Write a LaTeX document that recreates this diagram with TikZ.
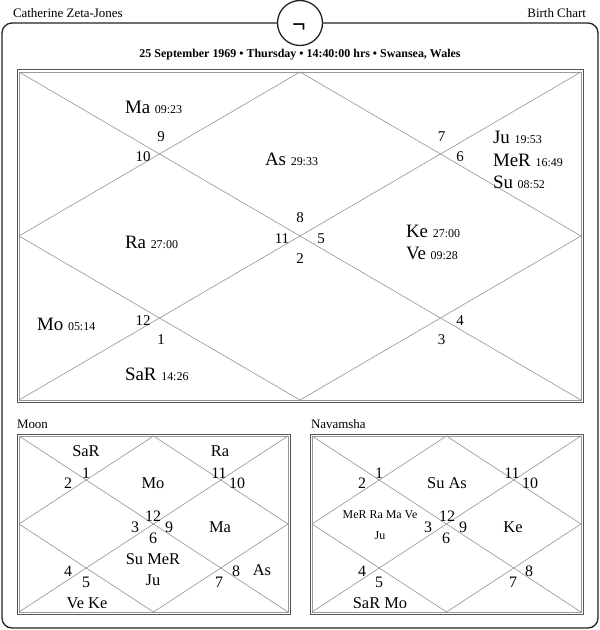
\documentclass[tikz,border=0pt]{standalone}
\usepackage{fontspec}
\setmainfont{Liberation Serif}
\definecolor{framec}{HTML}{222222}
\definecolor{boxout}{HTML}{555555}
\definecolor{boxin}{HTML}{9A9A9A}
\definecolor{linec}{HTML}{8C8C8C}
\newcommand{\pl}[2]{\fontsize{19}{20}\selectfont #1\ \fontsize{12}{13}\selectfont #2}
\newcommand{\chartgrid}[4]{%
  \draw[boxouter] (#1,#2) rectangle (#3,#4);
  \draw[boxinner] (#1+2,#2+2) rectangle (#3-2,#4-2);
  \draw[chartline] (#1+2,#2+2) -- (#3-2,#4-2);
  \draw[chartline] (#3-2,#2+2) -- (#1+2,#4-2);
  \draw[chartline] ({(#1+#3)/2},#2+2) -- (#3-2,{(#2+#4)/2}) -- ({(#1+#3)/2},#4-2) -- (#1+2,{(#2+#4)/2}) -- cycle;
}
\tikzset{
  boxouter/.style={draw=boxout, line width=1bp},
  boxinner/.style={draw=boxin, line width=0.6bp},
  chartline/.style={draw=linec, line width=0.55bp},
  txt/.style={inner sep=0pt, outer sep=0pt},
  planet/.style={txt, anchor=base west},
  hnum/.style={txt, anchor=base, font=\fontsize{15}{16}\selectfont},
  snum/.style={txt, anchor=base, font=\fontsize{16}{17}\selectfont},
  splan/.style={txt, anchor=base, font=\fontsize{16.5}{17}\selectfont},
  tiny/.style={txt, anchor=base, font=\fontsize{12}{13}\selectfont},
  head/.style={txt, font=\fontsize{13}{14}\selectfont},
}
\begin{document}
\begin{tikzpicture}[x=1bp,y=-1bp]
\useasboundingbox (0,0) rectangle (600,630);
\fill[white] (0,0) rectangle (600,630);
% outer frame
\draw[draw=framec, line width=1.3bp, rounded corners=10bp] (2,23) rectangle (598,628);
\node[draw=framec, fill=white, line width=1.3bp, circle, minimum size=45bp, inner sep=0pt] (badge) at (300,23) {};
\node[txt, anchor=base, font=\fontsize{24}{24}\selectfont\bfseries] (sym) at (299,32.5) {¬};
% headers
\node[head, anchor=base west] (name) at (13,18) {Catherine Zeta-Jones};
\node[head, anchor=base east] (kind) at (586,18) {Birth Chart};
\node[txt, anchor=base, font=\fontsize{12}{13}\selectfont\bfseries] (date) at (300,58) {25 September 1969 • Thursday • 14:40:00 hrs • Swansea, Wales};
% main chart
\chartgrid{17}{70}{583}{402}
\node[planet] (p-ma) at (125,114) {\pl{Ma}{09:23}};
\node[planet] (p-as) at (265,166) {\pl{As}{29:33}};
\node[planet] (p-ju) at (493,144) {\pl{Ju}{19:53}};
\node[planet] (p-me) at (493,166.5) {\pl{MeR}{16:49}};
\node[planet] (p-su) at (493,189) {\pl{Su}{08:52}};
\node[planet] (p-ra) at (125,248) {\pl{Ra}{27:00}};
\node[planet] (p-ke) at (406,237) {\pl{Ke}{27:00}};
\node[planet] (p-ve) at (406,259) {\pl{Ve}{09:28}};
\node[planet] (p-mo) at (37,330) {\pl{Mo}{05:14}};
\node[planet] (p-sa) at (125,380) {\pl{SaR}{14:26}};
\node[hnum] (h9) at (161,142) {9};
\node[hnum] (h10) at (143,162) {10};
\node[hnum] (h7) at (441.5,142) {7};
\node[hnum] (h6) at (460,162) {6};
\node[hnum] (h8) at (300,222) {8};
\node[hnum] (h11) at (282,243) {11};
\node[hnum] (h5) at (321,243) {5};
\node[hnum] (h2) at (300,263) {2};
\node[hnum] (h12) at (143,325) {12};
\node[hnum] (h1) at (161,344) {1};
\node[hnum] (h4) at (460,325) {4};
\node[hnum] (h3) at (441.5,344) {3};
% Moon chart
\node[head, anchor=base west] (moonlbl) at (17,428) {Moon};
\chartgrid{17}{434}{290}{614}
\node[splan] (m-sa) at (86,456) {SaR};
\node[snum] (m1) at (86,478.5) {1};
\node[snum] (m2) at (68,488.5) {2};
\node[splan] (m-mo) at (153,488) {Mo};
\node[splan] (m-ra) at (220,456) {Ra};
\node[snum] (m11) at (219,478.5) {11};
\node[snum] (m10) at (237,488.5) {10};
\node[snum] (m12) at (153,521) {12};
\node[snum] (m3) at (135,532) {3};
\node[snum] (m9) at (169,532) {9};
\node[snum] (m6) at (153,543) {6};
\node[splan] (m-ma) at (220,532) {Ma};
\node[splan] (m-sume) at (153,564) {Su MeR};
\node[splan] (m-ju) at (153,585) {Ju};
\node[snum] (m4) at (68,576) {4};
\node[snum] (m5) at (86,587) {5};
\node[splan] (m-veke) at (87,608) {Ve Ke};
\node[snum] (m8) at (236,576) {8};
\node[snum] (m7) at (219,587.5) {7};
\node[splan] (m-as) at (262,575) {As};
% Navamsha chart
\node[head, anchor=base west] (navlbl) at (311,428) {Navamsha};
\chartgrid{310}{434}{583}{614}
\node[snum] (n1) at (379,478.5) {1};
\node[snum] (n2) at (362,488.5) {2};
\node[splan] (n-suas) at (447,488) {Su As};
\node[snum] (n11) at (512,478.5) {11};
\node[snum] (n10) at (530,488.5) {10};
\node[tiny] (n-grp) at (380,518) {MeR Ra Ma Ve};
\node[tiny] (n-ju) at (380,539) {Ju};
\node[snum] (n12) at (447,521) {12};
\node[snum] (n3) at (428,532) {3};
\node[snum] (n9) at (463,532) {9};
\node[snum] (n6) at (446,543) {6};
\node[splan] (n-ke) at (513,532) {Ke};
\node[snum] (n4) at (362,576) {4};
\node[snum] (n5) at (379,587) {5};
\node[splan] (n-samo) at (380,608) {SaR Mo};
\node[snum] (n8) at (529,576) {8};
\node[snum] (n7) at (513,587.5) {7};
\end{tikzpicture}
\end{document}
